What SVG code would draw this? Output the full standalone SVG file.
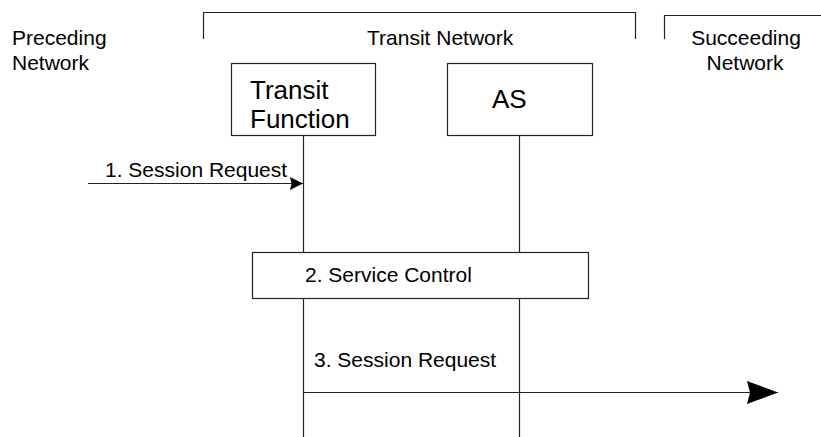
<svg xmlns="http://www.w3.org/2000/svg" width="821" height="437" viewBox="0 0 821 437">
<style>
text{font-family:"Liberation Sans",Arial,sans-serif;fill:#000}
.s{font-size:21px}
.b{font-size:26px}
.ln{stroke:#222;stroke-width:1.2;fill:none}
.box{stroke:#222;stroke-width:1.2;fill:#fff}
</style>
<defs>
<marker id="ah1" markerUnits="userSpaceOnUse" markerWidth="14" markerHeight="14" refX="13" refY="6.5" orient="auto">
<path d="M0,0 L13,6.5 L0,13 L1.5,6.5 Z" fill="#000"/>
</marker>
<marker id="ah2" markerUnits="userSpaceOnUse" markerWidth="32" markerHeight="24" refX="31" refY="11.5" orient="auto">
<path d="M0,0 L31,11.5 L0,23 L3,11.5 Z" fill="#000"/>
</marker>
</defs>
<g id="brackets">
<path class="ln" d="M203.5,39 V12.5 H635.5 V39"/>
<path class="ln" d="M664.5,39 V15.5 H821"/>
</g>
<g id="labels">
<text class="s" x="12" y="45">Preceding</text>
<text class="s" x="12" y="70">Network</text>
<text class="s" x="367" y="45">Transit Network</text>
<text class="s" x="746" y="45" text-anchor="middle">Succeeding</text>
<text class="s" x="745" y="70" text-anchor="middle">Network</text>
</g>
<g id="lifelines">
<line class="ln" x1="303.5" y1="135" x2="303.5" y2="437"/>
<line class="ln" x1="519.5" y1="135" x2="519.5" y2="437"/>
</g>
<g id="transit-function">
<rect class="box" x="231.5" y="63.5" width="144" height="72"/>
<text class="b" x="250" y="99">Transit</text>
<text class="b" x="250" y="128">Function</text>
</g>
<g id="as">
<rect class="box" x="447.5" y="63.5" width="145" height="72"/>
<text class="b" x="492" y="108">AS</text>
</g>
<g id="service-control">
<rect class="box" x="252.5" y="252.5" width="336" height="46"/>
<text class="s" x="305" y="282">2. Service Control</text>
</g>
<g id="connectors">
<line class="ln" x1="88" y1="183.5" x2="303" y2="183.5" marker-end="url(#ah1)"/>
<text class="s" x="105" y="177">1. Session Request</text>
<line class="ln" x1="303.5" y1="392.5" x2="778" y2="392.5" marker-end="url(#ah2)"/>
<text class="s" x="314" y="367">3. Session Request</text>
</g>
</svg>
